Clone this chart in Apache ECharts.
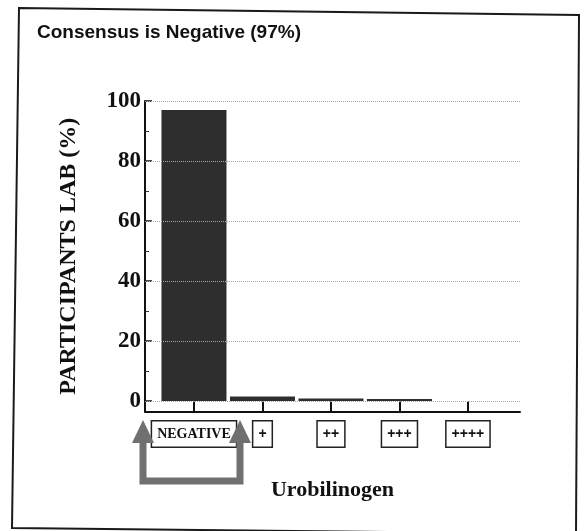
<!DOCTYPE html>
<html>
<head>
<meta charset="utf-8">
<script src="https://cdn.jsdelivr.net/npm/echarts@6/dist/echarts.min.js"></script>
<style>html,body{margin:0;padding:0;background:#fff;}#c{width:585px;height:531px;}</style>
</head>
<body>
<div id="c"></div>
<script>
const categories = ['NEGATIVE', '+', '++', '+++', '++++'];
const percentages = [97, 1.5, 0.8, 0.7, 0];
const majorTicks = [0, 20, 40, 60, 80, 100];
const minorTicks = [10, 30, 50, 70, 90];
const categoryIndex = [0, 1, 2, 3, 4];

const chart = echarts.init(document.getElementById('c'), null, {renderer: 'canvas'});
const serif = "'Liberation Serif', 'DejaVu Serif', serif";

const option = {
  backgroundColor: '#fff',
  animation: false,
  title: {
    text: 'Consensus is Negative (97%)',
    left: 37, top: 23, padding: 0,
    textStyle: {fontFamily: "'Liberation Sans', Arial, sans-serif", fontWeight: 'bold', fontSize: 19, color: '#111'}
  },
  grid: {left: 145, top: 101, right: 65, bottom: 119.5},
  xAxis: {
    type: 'value', min: -0.715, max: 4.76,
    name: 'Urobilinogen', nameLocation: 'middle', nameGap: 68,
    nameTextStyle: {fontFamily: serif, fontWeight: 'bold', fontSize: 22, color: '#111'},
    axisLine: {show: true, onZero: false, lineStyle: {color: '#111', width: 2}},
    axisTick: {show: true, inside: true, length: 10, customValues: categoryIndex, lineStyle: {color: '#111', width: 2}},
    axisLabel: {
      customValues: categoryIndex,
      formatter: v => {
        const c = categories[Math.round(v)];
        return c.indexOf('+') >= 0 ? '{p|' + c + '}' : '{n|' + c + '}';
      },
      fontFamily: serif, fontWeight: 'bold', fontSize: 15, color: '#111',
      margin: 10,
      borderColor: '#222', borderWidth: 1.5, padding: [5, 5, 4, 5], backgroundColor: '#fff',
      rich: {
        p: {fontFamily: "'Liberation Sans', Arial, sans-serif", fontWeight: 'bold', fontSize: 14, color: '#111', lineHeight: 16},
        n: {fontFamily: serif, fontWeight: 'bold', fontSize: 14, color: '#111', lineHeight: 16}
      }
    },
    splitLine: {show: false}
  },
  yAxis: [{
    type: 'value', min: -3.5, max: 100,
    name: 'PARTICIPANTS LAB (%)', nameLocation: 'middle', nameGap: 64, nameRotate: 90,
    nameTextStyle: {fontFamily: serif, fontWeight: 'bold', fontSize: 24, color: '#111'},
    axisLine: {show: true, onZero: false, lineStyle: {color: '#111', width: 2}},
    axisTick: {show: true, inside: true, length: 7, customValues: majorTicks, lineStyle: {color: '#111', width: 1.5}},
    axisLabel: {customValues: majorTicks, fontFamily: serif, fontWeight: 'bold', fontSize: 23, color: '#111', margin: 4},
    splitLine: {show: false}
  }, {
    type: 'value', min: -3.5, max: 100, position: 'left',
    axisLine: {show: false, onZero: false},
    axisTick: {show: true, inside: true, length: 4, customValues: minorTicks, lineStyle: {color: '#333', width: 1}},
    axisLabel: {show: false},
    splitLine: {show: false}
  }],
  series: [{
    type: 'line', data: [], z: 1, silent: true,
    markLine: {
      silent: true, symbol: 'none', label: {show: false},
      lineStyle: {type: 'dotted', color: '#a8a8a8', width: 1},
      data: majorTicks.map(v => ({yAxis: v}))
    }
  }, {
    type: 'bar', z: 2, barWidth: 65,
    data: categoryIndex.map(i => [i, percentages[i]]),
    itemStyle: {color: '#2e2e2e'}
  }],
  graphic: [
    {type: 'polygon', silent: true, z: 100,
     shape: {points: [[19, 8], [579, 15], [576, 534], [12, 528]]},
     style: {fill: 'none', stroke: '#1a1a1a', lineWidth: 2}},
    {type: 'polyline', silent: true, z: 100,
     shape: {points: [[143, 440], [143, 481], [240, 481], [240, 440]]},
     style: {fill: 'none', stroke: '#707070', lineWidth: 7}},
    {type: 'polygon', silent: true, z: 101,
     shape: {points: [[132, 443], [143, 420], [154, 443]]},
     style: {fill: '#707070'}},
    {type: 'polygon', silent: true, z: 101,
     shape: {points: [[229, 443], [240, 420], [251, 443]]},
     style: {fill: '#707070'}}
  ]
};
chart.setOption(option);
</script>
</body>
</html>
